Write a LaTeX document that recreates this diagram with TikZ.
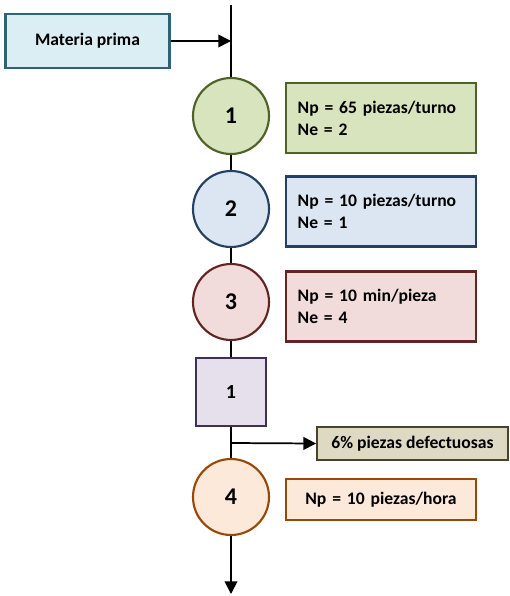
\documentclass[tikz,border=0pt]{standalone}
\usepackage{fontspec}
\setmainfont{Carlito}
\usetikzlibrary{arrows.meta}

\definecolor{verdeF}{HTML}{D7E4BD}\definecolor{verdeB}{HTML}{4F6228}
\definecolor{azulF}{HTML}{DCE6F2}\definecolor{azulB}{HTML}{254061}
\definecolor{rojoF}{HTML}{F2DCDB}\definecolor{rojoB}{HTML}{632523}
\definecolor{moradoF}{HTML}{E5E0EC}\definecolor{moradoB}{HTML}{3F3151}
\definecolor{ocreF}{HTML}{DDD9C3}\definecolor{ocreB}{HTML}{494429}
\definecolor{naranjaF}{HTML}{FDE9D9}\definecolor{naranjaB}{HTML}{984807}
\definecolor{celesteF}{HTML}{DBEEF4}\definecolor{celesteB}{HTML}{2F6373}

\tikzset{
  oper/.style={circle,line width=1.6pt,minimum size=57pt,inner sep=0pt,font=\fontsize{18}{20}\selectfont\bfseries},
  dato/.style={rectangle,line width=1.6pt,minimum height=52.5pt,text width=125pt,inner xsep=9pt,align=left,font=\fontsize{13.2}{16.5}\selectfont\bfseries},
  flujo/.style={line width=1.3pt},
  flecha/.style={line width=1.3pt,-{Triangle[length=9.5pt,width=9.5pt]}}
}

\begin{document}
\begin{tikzpicture}[x=0.75pt,y=-0.75pt]
\useasboundingbox (0,0) rectangle (510,596);
\coordinate (top) at (231,5); \coordinate (ent) at (231,41);
\coordinate (sal) at (231,443); \coordinate (fin) at (231,594);

\node[rectangle,draw=celesteB,fill=celesteF,line width=1.6pt,minimum width=123pt,minimum height=40pt,
  font=\fontsize{13.2}{16}\selectfont\bfseries] (mp) at (87.5,41) {Materia prima};

\node[oper,draw=verdeB,fill=verdeF] (op1) at (231,116) {1};
\node[oper,draw=azulB,fill=azulF] (op2) at (231,209) {2};
\node[oper,draw=rojoB,fill=rojoF] (op3) at (231,302) {3};
\node[rectangle,draw=moradoB,fill=moradoF,line width=1.6pt,minimum width=52pt,minimum height=51pt,
  font=\fontsize{15}{17}\selectfont\bfseries] (insp) at (231,392) {1};
\node[oper,draw=naranjaB,fill=naranjaF] (op4) at (231,497) {4};

\node[dato,draw=verdeB,fill=verdeF] (d1) at (381,118) {Np = 65 piezas/turno\\Ne = 2};
\node[dato,draw=azulB,fill=azulF] (d2) at (381,211.5) {Np = 10 piezas/turno\\Ne = 1};
\node[dato,draw=rojoB,fill=rojoF] (d3) at (381,306.5) {Np = 10 min/pieza\\Ne = 4};
\node[dato,draw=naranjaB,fill=naranjaF,minimum height=31pt,align=center] (d4) at (381,499.5) {Np = 10 piezas/hora};
\node[rectangle,draw=ocreB,fill=ocreF,line width=1.6pt,minimum width=143pt,minimum height=25pt,
  font=\fontsize{13.2}{16}\selectfont\bfseries] (def) at (412.5,443.5) {6\% piezas defectuosas};

% linea principal
\draw[flujo] (top) -- (op1.north);
\draw[flecha] (mp.east) -- (ent);
\draw[flujo] (op1.south) -- (op2.north);
\draw[flujo] (op2.south) -- (op3.north);
\draw[flujo] (op3.south) -- (insp.north);
\draw[flujo] (insp.south) -- (op4.north);
\draw[flecha] (sal) -- (def.west);
\draw[flecha] (op4.south) -- (fin);
\end{tikzpicture}
\end{document}
